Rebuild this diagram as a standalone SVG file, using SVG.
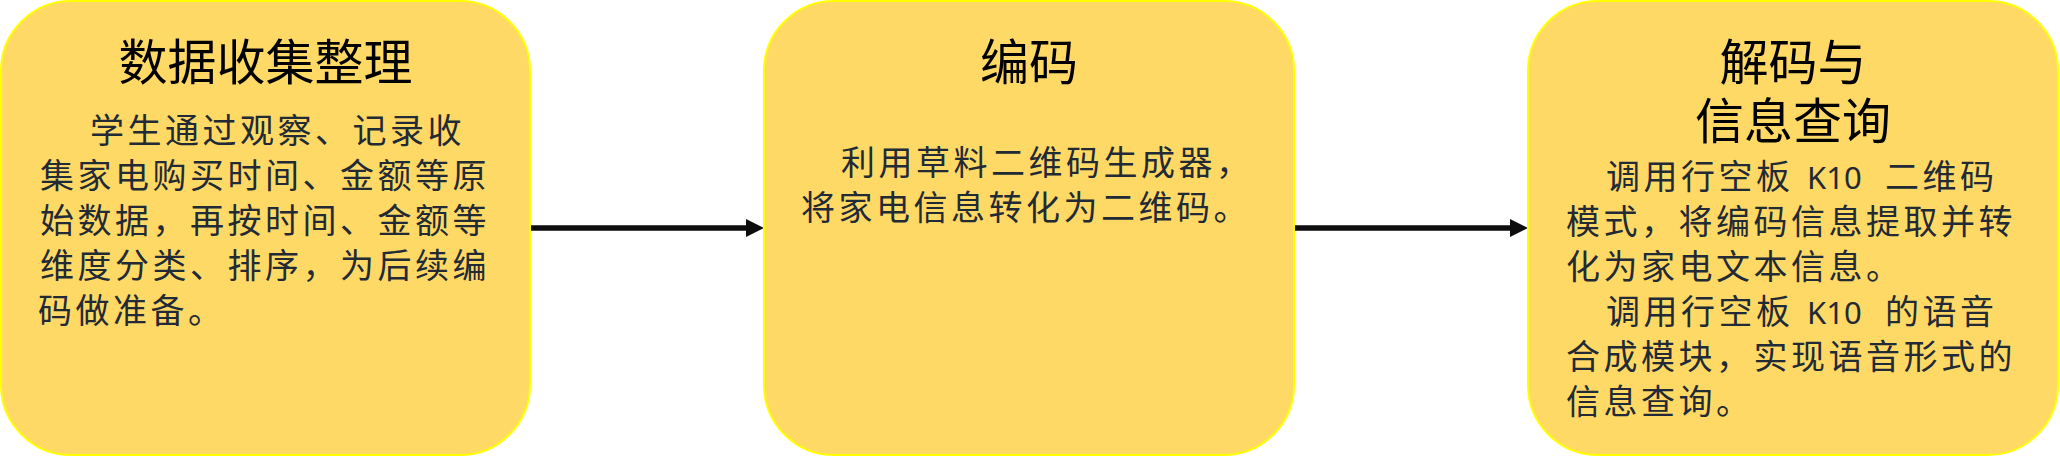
<svg xmlns="http://www.w3.org/2000/svg" width="2060" height="456" viewBox="0 0 2060 456">
<style>
.box{fill:#FFD966;stroke:#FFFF00;stroke-width:2}
.title{font-family:"Noto Sans CJK SC","Noto Sans",sans-serif;font-size:49px;fill:#000;text-anchor:middle}
.body{font-family:"Noto Sans CJK SC","Noto Sans",sans-serif;font-size:34px;fill:#222a35;letter-spacing:3.5px}
.lat{font-family:"Noto Sans","Noto Sans CJK SC",sans-serif;font-size:31px;letter-spacing:0}
.conn{stroke:#0d0d0d;stroke-width:5.5;fill:none}
</style>
<defs>
<marker id="arrow" markerUnits="userSpaceOnUse" markerWidth="18" markerHeight="18" refX="2" refY="9" orient="auto" viewBox="0 0 18 18">
<path d="M0,0 L18,9 L0,18 z" fill="#0d0d0d"/>
</marker>
</defs>
<g id="connectors">
<line class="conn" x1="530" y1="228" x2="748" y2="228" marker-end="url(#arrow)"/>
<line class="conn" x1="1294" y1="228" x2="1512" y2="228" marker-end="url(#arrow)"/>
</g>
<g id="node-collect">
<rect class="box" x="1" y="1" width="529" height="454" rx="70" ry="70"/>
<text class="title" x="265.5" y="80">数据收集整理</text>
<text class="body" x="90" y="143">学生通过观察、记录收</text>
<text class="body" x="40" y="188">集家电购买时间、金额等原</text>
<text class="body" x="40" y="233">始数据，再按时间、金额等</text>
<text class="body" x="40" y="278">维度分类、排序，为后续编</text>
<text class="body" x="38" y="323">码做准备。</text>
</g>
<g id="node-encode">
<rect class="box" x="764" y="1" width="530" height="454" rx="70" ry="70"/>
<text class="title" x="1029" y="80">编码</text>
<text class="body" x="841" y="175">利用草料二维码生成器，</text>
<text class="body" x="801" y="220">将家电信息转化为二维码。</text>
</g>
<g id="node-decode">
<rect class="box" x="1528" y="1" width="530" height="454" rx="70" ry="70"/>
<text class="title"><tspan x="1793" y="80">解码与</tspan><tspan x="1793" y="139">信息查询</tspan></text>
<text class="body" y="189"><tspan x="1606">调用行空板</tspan><tspan class="lat" x="1807">K10</tspan><tspan x="1885">二维码</tspan></text>
<text class="body" x="1566" y="234">模式，将编码信息提取并转</text>
<text class="body" x="1566" y="279">化为家电文本信息。</text>
<text class="body" y="324"><tspan x="1606">调用行空板</tspan><tspan class="lat" x="1807">K10</tspan><tspan x="1885">的语音</tspan></text>
<text class="body" x="1566" y="369">合成模块，实现语音形式的</text>
<text class="body" x="1566" y="414">信息查询。</text>
</g>
</svg>
